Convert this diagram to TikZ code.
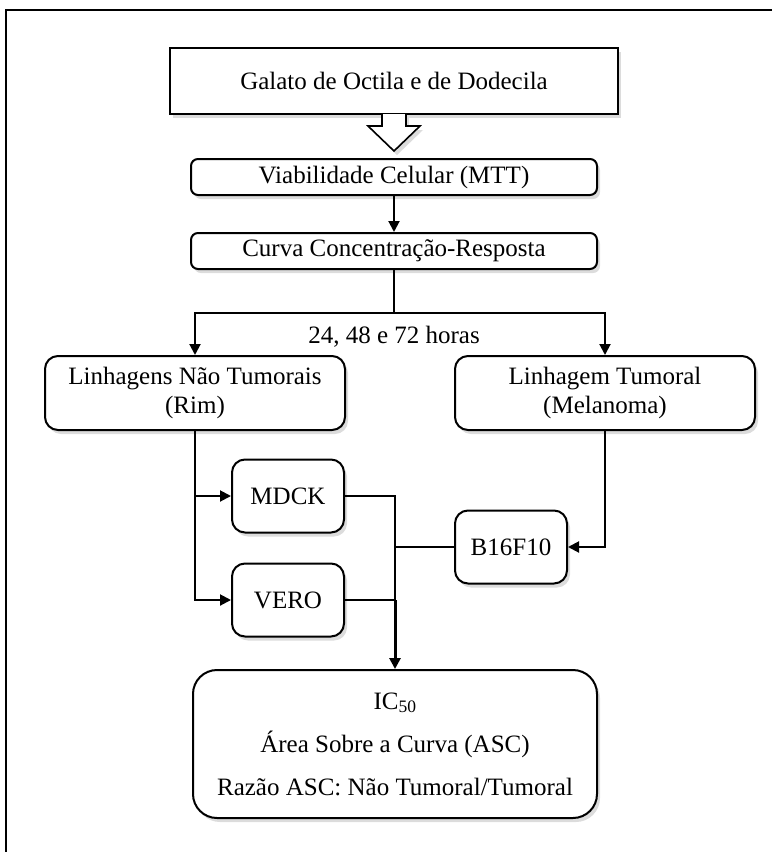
\documentclass[tikz,border=0pt]{standalone}
\usepackage{fontspec}
\setmainfont{Liberation Serif}
\usetikzlibrary{arrows.meta, positioning, calc, shadows}

\begin{document}
\begin{tikzpicture}[
  x=1pt, y=-1pt,
  font=\fontsize{25}{29}\selectfont,
  >={Triangle[length=11pt, width=11pt]},
  line width=2pt,
  every node/.style={align=center},
  softshadow/.style={drop shadow={opacity=0.28, shadow xshift=3pt, shadow yshift=-4pt}},
  sqbox/.style={rectangle, draw, fill=white, softshadow, minimum width=448pt,
                minimum height=66pt, inner sep=2pt},
  stepbox/.style={rectangle, rounded corners=7pt, draw, fill=white, softshadow,
                  minimum width=406pt, minimum height=36pt, inner sep=1pt},
  grpbox/.style={rectangle, rounded corners=13pt, draw, fill=white, softshadow,
                 minimum width=300pt, minimum height=74pt, inner sep=1pt},
  cellbox/.style={rectangle, rounded corners=13pt, draw, fill=white, softshadow,
                  minimum width=112pt, minimum height=73pt, inner sep=1pt},
  resbox/.style={rectangle, rounded corners=24pt, draw, fill=white, softshadow,
                 minimum width=404pt, minimum height=148pt, inner sep=1pt},
]
\useasboundingbox (0,0) rectangle (772,852);

% ---------- frame (cropped) ----------
\draw (772,10) -- (6,10) -- (6,852);

% ---------- top of the flow ----------
\node[sqbox] (galato) at (394,81) {Galato de Octila e de Dodecila};
\node[stepbox, below=43pt of galato] (viab) {Viabilidade Celular (MTT)};
\node[stepbox, below=36pt of viab] (curva) {Curva Concentração-Resposta};

% hollow block arrow out of the compound box
\draw[fill=white, softshadow, line width=1.6pt]
  ($(galato.south)+(-12,-1)$) -- ++(0,12) -- ++(-14,0)
  -- ($(galato.south)+(0,36)$) -- ($(galato.south)+(26,11)$)
  -- ++(-14,0) -- ++(0,-12);

% ---------- the two cell-line groups ----------
\node[grpbox] (naotum) at (195,393) {Linhagens Não Tumorais\\ (Rim)};
\node[grpbox] (tum) at (605,393) {Linhagem Tumoral\\ (Melanoma)};

\node[cellbox] (mdck) at (288,496) {MDCK};
\node[cellbox, below=29pt of mdck] (vero) {VERO};
\node[cellbox] (b16) at (511,547) {B16F10};

% ---------- results ----------
\node[resbox] (ic) at (395,744) {IC\textsubscript{50}\\[14pt]
  Área Sobre a Curva (ASC)\\[14pt] Razão ASC: Não Tumoral/Tumoral};

% ---------- arrows ----------
\draw[->] (viab) -- (curva);
\coordinate (split) at ($(curva.south)+(0,43)$);
\draw (curva.south) -- (split);
\draw[->] (split) -| (naotum.north);
\draw[->] (split) -| (tum.north);
\node[below=9pt of split] (hrs) {24, 48 e 72 horas};

% non-tumoral branch feeds both lines
\draw[->] (naotum.south) |- (vero.west);
\draw[->] (naotum.south |- mdck.west) -- (mdck.west);
% tumoral branch
\draw[->] (tum.south) |- (b16.east);

% all lines merge on one bus into the results
\coordinate (bus) at (ic.north |- mdck.east);
\draw (mdck.east) -- (bus) -- (vero.east -| bus);
\draw (vero.east) -- (vero.east -| bus);
\draw (b16.west) -- (b16.west -| bus);
\draw[->, line width=3pt] (vero.east -| bus) -- (ic.north);

\end{tikzpicture}
\end{document}
